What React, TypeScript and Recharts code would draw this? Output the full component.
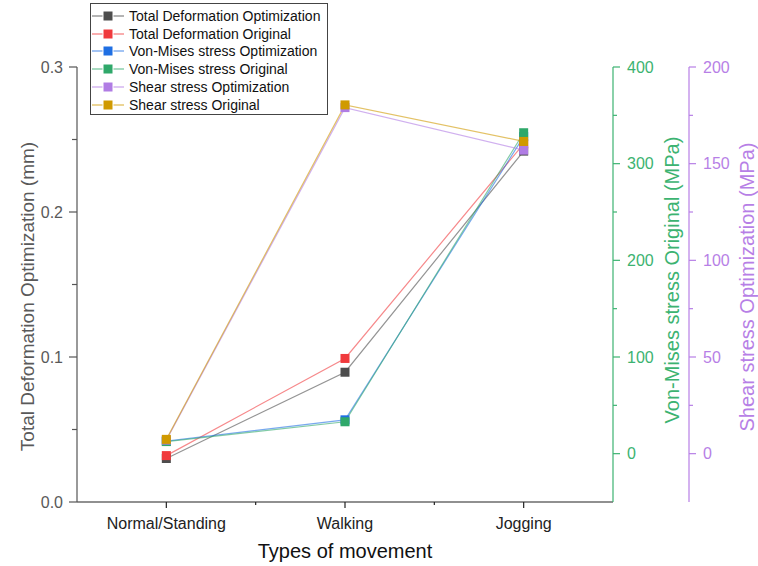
import React from 'react';
import { LineChart, Line, XAxis, YAxis } from 'recharts';

const FONT = 'Arial, "Liberation Sans", sans-serif';

const categories = ['Normal/Standing', 'Walking', 'Jogging'];
const totalDefOpt = [0.030, 0.0895, 0.242];
const totalDefOrig = [0.032, 0.099, 0.247];
const vonMisesOpt = [13, 35, 328];
const vonMisesOrig = [12.5, 33, 332];
const shearOpt = [7, 179, 157];
const shearOrig = [7.4, 180.4, 161.5];

const xTicks = [1, 1.5, 2, 2.5, 3];
const leftTicks = [0, 0.05, 0.1, 0.15, 0.2, 0.25, 0.3];
const vmTicks = [0, 50, 100, 150, 200, 250, 300, 350, 400];
const shTicks = [0, 25, 50, 75, 100, 125, 150, 175, 200];

const GREEN = '#3cb371';
const PURPLE = '#b77fe6';
const GREY = '#595959';

const data = categories.map((c, i) => ({
  pos: i + 1,
  name: c,
  tdo: totalDefOpt[i],
  tdr: totalDefOrig[i],
  vmo: vonMisesOpt[i],
  vmr: vonMisesOrig[i],
  sho: shearOpt[i],
  shr: shearOrig[i],
}));

const series = [
  { key: 'tdo', name: 'Total Deformation Optimization', color: '#4d4d4d', axis: 'left' },
  { key: 'tdr', name: 'Total Deformation Original', color: '#f03a3d', axis: 'left' },
  { key: 'vmo', name: 'Von-Mises stress Optimization', color: '#1f6fe3', axis: 'a_vm' },
  { key: 'vmr', name: 'Von-Mises stress Original', color: '#2fa86a', axis: 'a_vm' },
  { key: 'sho', name: 'Shear stress Optimization', color: '#b07ce4', axis: 'b_sh' },
  { key: 'shr', name: 'Shear stress Original', color: '#d09a00', axis: 'b_sh' },
];

const LeftTick = (props: any) => {
  const { x, y, payload, index } = props;
  const major = index % 2 === 0;
  return (
    <g>
      <line x1={x - (major ? 8 : 5)} x2={x} y1={y} y2={y} stroke="#555" strokeWidth={1.2} />
      {major && (
        <text x={x - 14} y={y} textAnchor="end" dominantBaseline="central" fontSize={16} fill={GREY} fontFamily={FONT}>
          {Number(payload.value).toFixed(1)}
        </text>
      )}
    </g>
  );
};

const makeRightTick = (color: string) => (props: any) => {
  const { x, y, payload, index } = props;
  const major = index % 2 === 0;
  return (
    <g>
      <line x1={x} x2={x + (major ? 7 : 4)} y1={y} y2={y} stroke={color} strokeWidth={1.2} />
      {major && (
        <text x={x + 14} y={y} textAnchor="start" dominantBaseline="central" fontSize={16} fill={color} fontFamily={FONT}>
          {payload.value}
        </text>
      )}
    </g>
  );
};
const VmTick = makeRightTick(GREEN);
const ShTick = makeRightTick(PURPLE);

const XTick = (props: any) => {
  const { x, y, payload } = props;
  const v = Number(payload.value);
  const major = Number.isInteger(v);
  return (
    <g>
      <line x1={x} x2={x} y1={y} y2={y + (major ? 6 : 3)} stroke="#222" strokeWidth={1.2} />
      {major && (
        <text x={x} y={y + 21} textAnchor="middle" dominantBaseline="central" fontSize={16} fill="#222" fontFamily={FONT}>
          {categories[v - 1]}
        </text>
      )}
    </g>
  );
};

const yTitle = (text: string, color: string, dx: number, dy: number, size: number) => (p: any) => {
  const vb = p.viewBox || { x: 0, y: 0, width: 0, height: 0 };
  const cx = vb.x + dx;
  const cy = vb.y + vb.height / 2 + dy;
  return (
    <text
      x={cx}
      y={cy}
      transform={`rotate(-90, ${cx}, ${cy})`}
      textAnchor="middle"
      dominantBaseline="central"
      fontSize={size}
      fill={color}
      fontFamily={FONT}
    >
      {text}
    </text>
  );
};

const xTitle = (p: any) => {
  const vb = p.viewBox || { x: 0, y: 0, width: 0, height: 0 };
  return (
    <text
      x={vb.x + vb.width / 2}
      y={vb.y + 49}
      textAnchor="middle"
      dominantBaseline="central"
      fontSize={20}
      fill="#111"
      fontFamily={FONT}
    >
      Types of movement
    </text>
  );
};

const X_LABEL = { content: xTitle };
const LEFT_LABEL = { content: yTitle('Total Deformation Optimization (mm)', GREY, 19, 12, 19) };
const VM_LABEL = { content: yTitle('Von-Mises stress Original (MPa)', GREEN, 59, -4.5, 20) };
const SH_LABEL = { content: yTitle('Shear stress Optimization (MPa)', PURPLE, 58, 2.5, 20) };

const makeDot = (color: string) => (p: any) => {
  if (p.cx == null || p.cy == null) return <g key={p.index} />;
  return <rect key={p.index} x={p.cx - 4.5} y={p.cy - 4.5} width={9} height={9} fill={color} />;
};
const DOTS: Record<string, any> = Object.fromEntries(series.map((s) => [s.key, makeDot(s.color)]));

const LegendBox = () => (
  <div
    style={{
      position: 'absolute',
      left: 90,
      top: 3,
      width: 238,
      height: 112,
      boxSizing: 'border-box',
      border: '1px solid #444',
      background: '#fff',
      paddingTop: 3,
      fontFamily: FONT,
    }}
  >
    {series.map((s) => (
      <div key={s.key} style={{ display: 'flex', alignItems: 'center', height: 17.8 }}>
        <svg width={32} height={12} style={{ marginLeft: 1, display: 'block' }}>
          <line x1={0} x2={32} y1={6} y2={6} stroke={s.color} strokeOpacity={0.7} strokeWidth={1.2} />
          <rect x={11} y={1} width={10} height={10} fill={s.color} stroke="#fff" strokeWidth={1} />
        </svg>
        <span style={{ marginLeft: 5, fontSize: 14, color: '#111', whiteSpace: 'nowrap' }}>{s.name}</span>
      </div>
    ))}
  </div>
);

export default function App() {
  return (
    <div style={{ position: 'relative', width: 758, height: 566, overflow: 'hidden' }}>
      <style>{'body{margin:0;}'}</style>
      <div style={{ position: 'absolute', left: 8, top: 8, width: 750, height: 558 }}>
        <LineChart width={750} height={558} data={data} margin={{ top: 59, right: 0, bottom: 0, left: 0 }}>
          <XAxis
            dataKey="pos"
            type="number"
            domain={[0.5, 3.5]}
            ticks={xTicks}
            interval={0}
            height={64}
            tickSize={0}
            tickMargin={0}
            tickLine={false}
            tick={XTick}
            axisLine={{ stroke: '#222', strokeWidth: 1.2 }}
            label={X_LABEL}
          />
          <YAxis
            yAxisId="left"
            orientation="left"
            type="number"
            width={69}
            domain={[0, 0.3]}
            ticks={leftTicks}
            interval={0}
            tickSize={0}
            tickMargin={0}
            tickLine={false}
            tick={LeftTick}
            axisLine={{ stroke: '#555', strokeWidth: 1.2 }}
            label={LEFT_LABEL}
          />
          <YAxis
            yAxisId="b_sh"
            orientation="right"
            type="number"
            width={69}
            domain={[-25, 200]}
            ticks={shTicks}
            interval={0}
            tickSize={0}
            tickMargin={0}
            tickLine={false}
            tick={ShTick}
            axisLine={{ stroke: PURPLE, strokeWidth: 1.2 }}
            label={SH_LABEL}
          />
          <YAxis
            yAxisId="a_vm"
            orientation="right"
            type="number"
            width={76}
            domain={[-50, 400]}
            ticks={vmTicks}
            interval={0}
            tickSize={0}
            tickMargin={0}
            tickLine={false}
            tick={VmTick}
            axisLine={{ stroke: GREEN, strokeWidth: 1.2 }}
            label={VM_LABEL}
          />
          {series.map((s) => (
            <Line
              key={s.key}
              yAxisId={s.axis}
              dataKey={s.key}
              name={s.name}
              type="linear"
              stroke={s.color}
              strokeOpacity={0.6}
              strokeWidth={1.2}
              dot={DOTS[s.key]}
              activeDot={false}
              isAnimationActive={false}
            />
          ))}
        </LineChart>
      </div>
      <LegendBox />
    </div>
  );
}
